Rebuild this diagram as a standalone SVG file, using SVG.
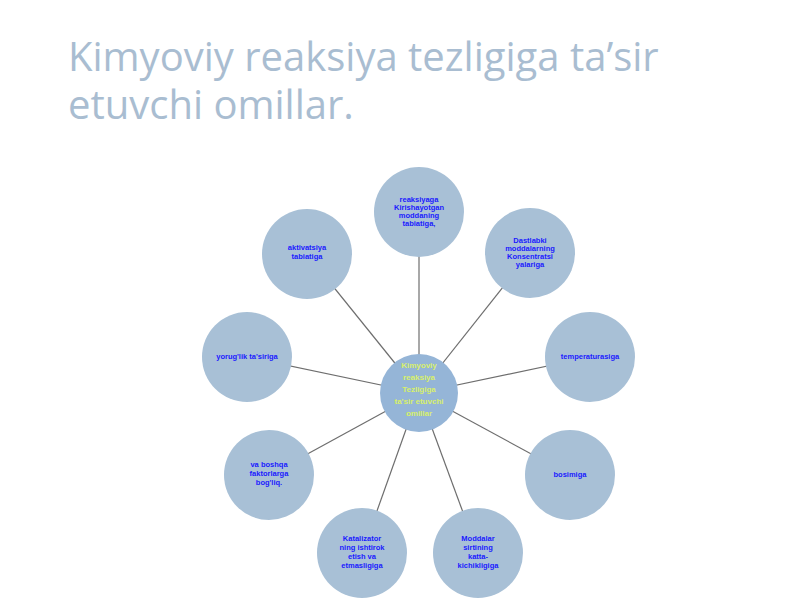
<svg xmlns="http://www.w3.org/2000/svg" width="800" height="600" viewBox="0 0 800 600">
<style>
.title{font-family:"Open Sans","Noto Sans",sans-serif;font-size:40px;fill:#a9bdd1;}
.n{fill:#a8c0d6;}
.c{fill:#95b5d7;}
.t{font-family:"Liberation Sans",Arial,sans-serif;font-size:7.5px;font-weight:bold;fill:#1a1aff;text-anchor:middle;}
.ct{font-family:"Liberation Sans",Arial,sans-serif;font-size:8px;font-weight:bold;fill:#d8f06a;text-anchor:middle;}
.e{stroke:#6e6e6e;stroke-width:1.2;}
</style>
<rect width="800" height="600" fill="#ffffff"/>
<text class="title" x="68" y="71"><tspan x="68" y="71">Kimyoviy reaksiya tezligiga ta’sir</tspan><tspan x="68" y="119">etuvchi omillar.</tspan></text>
<g id="connectors" class="e">
<line x1="419" y1="393" x2="419" y2="212"/>
<line x1="419" y1="393" x2="530" y2="253"/>
<line x1="419" y1="393" x2="307" y2="254"/>
<line x1="419" y1="393" x2="247" y2="357"/>
<line x1="419" y1="393" x2="590" y2="357"/>
<line x1="419" y1="393" x2="570" y2="475"/>
<line x1="419" y1="393" x2="269" y2="475"/>
<line x1="419" y1="393" x2="362" y2="553"/>
<line x1="419" y1="393" x2="478" y2="553"/>
</g>
<g id="n-top"><circle class="n" cx="419" cy="212" r="45"/>
<text class="t" x="419" y="202">reaksiyaga</text><text class="t" x="419" y="210">Kirishayotgan</text><text class="t" x="419" y="218">moddaning</text><text class="t" x="419" y="226">tabiatiga,</text></g>
<g id="n-topright"><circle class="n" cx="530" cy="253" r="45"/>
<text class="t" x="530" y="243">Dastlabki</text><text class="t" x="530" y="251">moddalarning</text><text class="t" x="530" y="259">Konsentratsi</text><text class="t" x="530" y="267">yalariga</text></g>
<g id="n-topleft"><circle class="n" cx="307" cy="254" r="45"/>
<text class="t" x="307" y="250">aktivatsiya</text><text class="t" x="307" y="259">tabiatiga</text></g>
<g id="n-left"><circle class="n" cx="247" cy="357" r="45"/>
<text class="t" x="247" y="359">yorug'lik ta'siriga</text></g>
<g id="n-right"><circle class="n" cx="590" cy="357" r="45"/>
<text class="t" x="590" y="359">temperaturasiga</text></g>
<g id="n-bottomright"><circle class="n" cx="570" cy="475" r="45"/>
<text class="t" x="570" y="477">bosimiga</text></g>
<g id="n-bottomleft"><circle class="n" cx="269" cy="475" r="45"/>
<text class="t" x="269" y="467">va boshqa</text><text class="t" x="269" y="476">faktorlarga</text><text class="t" x="269" y="485">bog'liq.</text></g>
<g id="n-bottom"><circle class="n" cx="362" cy="553" r="45"/>
<text class="t" x="362" y="541">Katalizator</text><text class="t" x="362" y="550">ning ishtirok</text><text class="t" x="362" y="559">etish va</text><text class="t" x="362" y="568">etmasligiga</text></g>
<g id="n-bottomright2"><circle class="n" cx="478" cy="553" r="45"/>
<text class="t" x="478" y="541">Moddalar</text><text class="t" x="478" y="550">sirtining</text><text class="t" x="478" y="559">katta-</text><text class="t" x="478" y="568">kichikligiga</text></g>
<g id="n-center"><circle class="c" cx="419" cy="393" r="39"/>
<text class="ct" x="419" y="368">Kimyoviy</text><text class="ct" x="419" y="380">reaksiya</text><text class="ct" x="419" y="392">Tezligiga</text><text class="ct" x="419" y="404">ta'sir etuvchi</text><text class="ct" x="419" y="416">omillar</text></g>
</svg>
